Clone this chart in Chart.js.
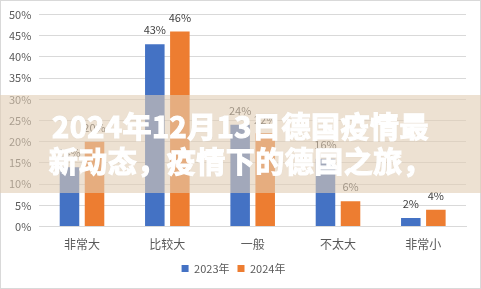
<!DOCTYPE html>
<html>
<head>
<meta charset="utf-8">
<script src="https://cdn.jsdelivr.net/npm/chart.js@4"></script>
<style>
  html, body { margin: 0; padding: 0; background: #fff; }
  #wrap { position: relative; width: 481px; height: 289px; overflow: hidden; }
  #c { position: absolute; left: 0; top: 0; }
  #band {
    position: absolute; left: 0; top: 95px; width: 481px; height: 98px;
    background: rgba(225, 205, 180, 0.6);
  }
  #title {
    position: absolute; left: 0; top: 108px; width: 481px;
    text-align: center; color: #fff;
    font-family: "Noto Sans CJK SC", sans-serif; font-weight: 700;
    font-size: 29px; line-height: 35px; letter-spacing: 0.5px;
    -webkit-text-stroke: 1.2px #fff;
    text-shadow: 0 0 2px rgba(0,0,0,0.08);
  }
</style>
</head>
<body>
<div id="wrap">
  <canvas id="c" width="481" height="289"></canvas>
  <div id="band"></div>
  <div id="title">2024年12月13日德国疫情最<br>新动态，疫情下的德国之旅，</div>
</div>
<script>
const categories = ["非常大", "比较大", "一般", "不太大", "非常小"];
const series2023 = [14, 43, 24, 16, 2];
const series2024 = [20, 46, 22, 6, 4];
const seriesNames = ["2023年", "2024年"];
const yTicks = [0, 5, 10, 15, 20, 25, 30, 35, 40, 45, 50];

const FONT = '"Noto Sans CJK SC", "Liberation Sans", sans-serif';

const labelPlugin = {
  id: 'barLabels',
  afterDatasetsDraw(chart) {
    const ctx = chart.ctx;
    ctx.save();
    ctx.font = '11px ' + FONT;
    ctx.fillStyle = '#404040';
    ctx.textAlign = 'center';
    ctx.textBaseline = 'middle';
    chart.data.datasets.forEach((ds, i) => {
      chart.getDatasetMeta(i).data.forEach((bar, j) => {
        ctx.fillText(ds.data[j] + '%', bar.x, bar.y - 14);
      });
    });
    ctx.restore();
  }
};

const borderPlugin = {
  id: 'frame',
  afterDraw(chart) {
    const ctx = chart.ctx;
    ctx.save();
    ctx.strokeStyle = '#d9d9d9';
    ctx.lineWidth = 1;
    ctx.strokeRect(0.5, 0.5, chart.width - 1, chart.height - 1);
    ctx.restore();
  }
};

new Chart(document.getElementById('c'), {
  type: 'bar',
  data: {
    labels: categories,
    datasets: [
      { label: seriesNames[0], data: series2023, backgroundColor: '#4472c4' },
      { label: seriesNames[1], data: series2024, backgroundColor: '#ed7d31' }
    ]
  },
  options: {
    responsive: false,
    animation: false,
    layout: { padding: { top: 10, right: 15, bottom: 5, left: 1 } },
    datasets: { bar: { categoryPercentage: 0.587, barPercentage: 0.78 } },
    scales: {
      x: {
        grid: { display: false },
        border: { color: '#d9d9d9' },
        ticks: { color: '#595959', font: { family: FONT, size: 12 }, padding: 3 }
      },
      y: {
        min: 0, max: 50,
        afterBuildTicks(scale) { scale.ticks = yTicks.map(v => ({ value: v })); },
        grid: { color: '#d9d9d9', drawTicks: false },
        border: { display: false },
        ticks: {
          color: '#595959', font: { family: FONT, size: 11 }, padding: 8,
          callback: v => v + '%'
        }
      }
    },
    plugins: {
      legend: {
        position: 'bottom',
        labels: {
          color: '#595959', font: { family: FONT, size: 11 },
          boxWidth: 7, boxHeight: 7, padding: 8
        }
      },
      tooltip: { enabled: false }
    }
  },
  plugins: [labelPlugin, borderPlugin]
});
</script>
</body>
</html>
